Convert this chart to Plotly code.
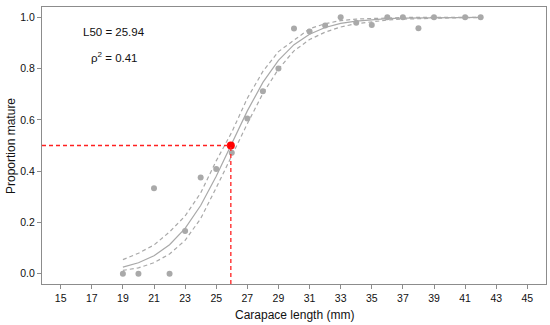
import plotly.graph_objects as go

# observed proportions
obs_len = [19, 20, 21, 22, 23, 24, 25, 26, 27, 28, 29, 30, 31, 32, 33, 34, 35, 36, 37, 38, 39, 41, 42]
obs_prop = [0.0, 0.0, 0.333, 0.0, 0.167, 0.375, 0.408, 0.472, 0.605, 0.712, 0.80,
            0.956, 0.944, 0.968, 1.0, 0.979, 0.970, 1.0, 1.0, 0.957, 1.0, 1.0, 1.0]

# fitted curve and confidence band
fit_len = [19, 20, 21, 22, 23, 24, 25, 26, 27, 28, 29, 30, 31, 32, 33, 34, 35, 36, 37, 38, 39, 40, 41, 42]
fit_prop = [0.026, 0.043, 0.070, 0.113, 0.177, 0.266, 0.380, 0.508, 0.635, 0.746, 0.832, 0.893,
            0.934, 0.960, 0.976, 0.985, 0.991, 0.995, 0.997, 0.998, 0.999, 0.9994, 0.9996, 0.9998]
upper = [0.055, 0.080, 0.112, 0.163, 0.225, 0.315, 0.440, 0.552, 0.684, 0.789, 0.866, 0.912,
         0.955, 0.975, 0.987, 0.993, 0.996, 0.998, 0.999, 0.9995, 0.9997, 0.9998, 0.9999, 0.9999]
lower = [0.013, 0.023, 0.043, 0.077, 0.130, 0.215, 0.335, 0.463, 0.585, 0.703, 0.798, 0.869,
         0.913, 0.942, 0.962, 0.975, 0.983, 0.989, 0.993, 0.995, 0.997, 0.998, 0.9985, 0.999]

L50 = 25.94
rho2 = 0.41
x_ticks = [15, 17, 19, 21, 23, 25, 27, 29, 31, 33, 35, 37, 39, 41, 43, 45]
y_ticks = [0.0, 0.2, 0.4, 0.6, 0.8, 1.0]

GRAY = "#a9a9a9"
AX = "#8c8c8c"
FONT = "Liberation Sans, Arial, sans-serif"
TXT = "#111111"

W, H = 550, 325
ml, mr, mt, mb = 42, 4, 7, 41
pw, ph = W - ml - mr, H - mt - mb


def px(xp):
    return (xp - ml) / pw


def py(yp):
    return 1 - (yp - mt) / ph


fig = go.Figure()
fig.add_trace(go.Scatter(x=fit_len, y=upper, mode="lines",
                         line=dict(color=GRAY, width=1.2, dash="4px,3px"), hoverinfo="skip"))
fig.add_trace(go.Scatter(x=fit_len, y=lower, mode="lines",
                         line=dict(color=GRAY, width=1.2, dash="4px,3px"), hoverinfo="skip"))
fig.add_trace(go.Scatter(x=fit_len, y=fit_prop, mode="lines",
                         line=dict(color=GRAY, width=1.2)))
fig.add_trace(go.Scatter(x=obs_len, y=obs_prop, mode="markers",
                         marker=dict(color=GRAY, size=6)))

# L50 reference lines
fig.add_shape(type="line", xref="x domain", yref="y", x0=0, x1=(L50 - 13.8) / 32.4,
              y0=0.5, y1=0.5, line=dict(color="#ff2020", width=1.3, dash="4px,3px"))
fig.add_shape(type="line", xref="x", yref="y domain", x0=L50, x1=L50,
              y0=0, y1=(0.5 + 0.04) / 1.08, line=dict(color="#ff2020", width=1.3, dash="4px,3px"))
fig.add_trace(go.Scatter(x=[L50], y=[0.5], mode="markers",
                         marker=dict(color="#ff0000", size=8)))

ann = dict(xref="paper", yref="paper", showarrow=False, xanchor="center", yanchor="middle")
fig.add_annotation(x=px(114), y=py(31.5), text=f"L50 = {L50:.2f}",
                   font=dict(family=FONT, size=11.5, color=TXT), **ann)
fig.add_annotation(x=px(114), y=py(57), text=f"ρ<sup>2</sup> = {rho2:.2f}",
                   font=dict(family=FONT, size=11.5, color=TXT), **ann)
# axis titles
fig.add_annotation(x=px(294), y=py(315), text="Carapace length (mm)",
                   font=dict(family=FONT, size=12, color=TXT), **ann)
fig.add_annotation(x=px(11), y=py(146), textangle=-90, text="Proportion mature",
                   font=dict(family=FONT, size=12, color=TXT), **ann)

fig.update_layout(
    width=W, height=H,
    margin=dict(l=ml, r=mr, t=mt, b=mb, autoexpand=False),
    paper_bgcolor="white", plot_bgcolor="white",
    showlegend=False,
    font=dict(family=FONT, size=10.5, color=TXT),
)
fig.update_xaxes(range=[13.8, 46.2], tickvals=x_ticks, ticks="outside", ticklen=4,
                 tickcolor=AX, showline=True, linecolor=AX, linewidth=1.2, mirror=True,
                 showgrid=False, zeroline=False, automargin=False,
                 tickfont=dict(family=FONT, size=10.5, color=TXT))
fig.update_yaxes(range=[-0.04, 1.04], tickvals=y_ticks, tickformat=".1f", ticks="outside",
                 ticklen=4, tickcolor=AX, showline=True, linecolor=AX, linewidth=1.2,
                 mirror=True, showgrid=False, zeroline=False, automargin=False,
                 tickfont=dict(family=FONT, size=10.5, color=TXT))

fig.write_html("out.html", config={"displayModeBar": False},
               post_script="document.body.style.margin='0';document.body.style.padding='0';")
